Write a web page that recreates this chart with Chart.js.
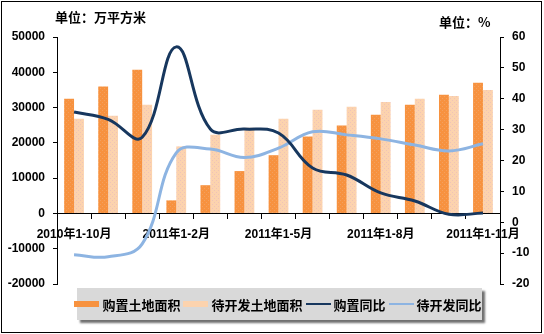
<!DOCTYPE html>
<html>
<head>
<meta charset="utf-8">
<script src="https://cdn.jsdelivr.net/npm/chart.js@4.4.1/dist/chart.umd.min.js"></script>
<style>
    body { margin: 0; background: #fff; }
    #wrap { position: relative; width: 544px; height: 334px; font-family: "Noto Sans CJK SC", sans-serif; }
    #chart { position: absolute; left: 0; top: 0; }
    .unit { position: absolute; font-weight: bold; font-size: 13px; color: #000; white-space: nowrap; }
    #legend {
        position: absolute; left: 77px; top: 288px; width: 405px; height: 32px;
        background: #d9d9d9; box-shadow: 3px 3px 2px #707070;
        display: flex; align-items: center; justify-content: center;
        font-weight: bold; font-size: 13px; white-space: nowrap;
    }
    #legend .item { display: flex; align-items: center; margin-right: 3px; }
    #legend .sw { display: inline-block; width: 25px; margin-right: 3px; }
</style>
</head>
<body>
<div id="wrap">
    <canvas id="chart" width="544" height="334"></canvas>
    <div class="unit" style="left:55px;top:7px;">单位：万平方米</div>
    <div class="unit" style="left:439px;top:12px;">单位：%</div>
    <div id="legend"></div>
</div>
<script>
const categories = [
    '2010年1-10月', '2010年1-11月', '2010年1-12月',
    '2011年1-2月', '2011年1-3月', '2011年1-4月', '2011年1-5月', '2011年1-6月',
    '2011年1-7月', '2011年1-8月', '2011年1-9月', '2011年1-10月', '2011年1-11月'
];
const seriesNames = ['购置土地面积', '待开发土地面积', '购置同比', '待开发同比'];

// 万平方米
const landBought = [32500, 36000, 40700, 3700, 8000, 12000, 16500, 21800, 24900, 28000, 30800, 33600, 37000];
const landIdle = [26800, 27700, 30800, 19000, 22300, 24300, 26800, 29400, 30200, 31600, 32500, 33300, 35000];

// %
const boughtYoY = [35.7, 33.3, 27.5, 56.8, 30.2, 30.2, 28.9, 17.6, 15.3, 9.5, 6.9, 2.6, 3.0];
const idleYoY = [-10.5, -11.2, -7.0, 22.5, 23.7, 21.0, 24.0, 29.3, 28.3, 27.0, 25.0, 23.1, 25.4];

const colors = ['#F7923F', '#FCD3AE', '#17375E', '#8DB4E2'];

function texture(base, dot) {
    const c = document.createElement('canvas');
    c.width = 4; c.height = 4;
    const g = c.getContext('2d');
    g.fillStyle = base; g.fillRect(0, 0, 4, 4);
    g.fillStyle = dot;
    g.fillRect(0, 0, 1, 1);
    g.fillRect(2, 2, 1, 1);
    return g.createPattern(c, 'repeat');
}
const ctx = document.getElementById('chart').getContext('2d');
const fills = [texture('#F7923F', '#F4A05E'), texture('#FCD3AE', '#EFC3B8')];

// outer frame
const framePlugin = {
    id: 'frame',
    afterDraw(chart) {
        const c = chart.ctx;
        c.save();
        c.strokeStyle = '#000';
        c.lineWidth = 1;
        c.strokeRect(1.5, 1.5, 540, 331);
        c.restore();
    }
};

const tickFont = { family: 'Liberation Sans, Arial', size: 12, weight: 'bold' };

new Chart(ctx, {
    type: 'bar',
    data: {
        labels: categories,
        datasets: [{
            label: seriesNames[2], type: 'line', data: boughtYoY, yAxisID: 'y1',
            borderColor: colors[2], borderWidth: 3, pointRadius: 0, tension: 0.4, order: 0
        }, {
            label: seriesNames[3], type: 'line', data: idleYoY, yAxisID: 'y1',
            borderColor: colors[3], borderWidth: 3, pointRadius: 0, tension: 0.4, order: 1
        }, {
            label: seriesNames[0], data: landBought, yAxisID: 'y',
            backgroundColor: fills[0], order: 2,
            categoryPercentage: 0.58, barPercentage: 1
        }, {
            label: seriesNames[1], data: landIdle, yAxisID: 'y',
            backgroundColor: fills[1], order: 2,
            categoryPercentage: 0.58, barPercentage: 1
        }]
    },
    options: {
        responsive: false,
        animation: false,
        layout: { padding: { top: 37, bottom: 50, left: 0, right: 0 } },
        plugins: { legend: { display: false }, tooltip: { enabled: false } },
        scales: {
            x: {
                position: { y: 0 },
                offset: true,
                border: { display: true, color: '#000', width: 1 },
                grid: { display: true, drawOnChartArea: false, drawTicks: true, tickLength: 5, color: '#000', offset: true },
                ticks: {
                    autoSkip: false, maxRotation: 0, padding: 9, color: '#000',
                    font: { family: 'Liberation Sans, Noto Sans CJK SC', size: 12, weight: 'bold' },
                    callback: (v, i) => i % 3 === 0 ? categories[i] : ''
                }
            },
            y: {
                position: 'left', min: -20000, max: 50000,
                border: { display: true, color: '#000', width: 1 },
                grid: { drawOnChartArea: false, drawTicks: true, tickLength: 4, color: '#000' },
                ticks: { stepSize: 10000, color: '#000', font: tickFont, padding: 8, callback: v => String(v) },
                afterFit: s => { s.width = 57; }
            },
            y1: {
                position: 'right', min: -20, max: 60,
                border: { display: true, color: '#000', width: 1 },
                grid: { drawOnChartArea: false, drawTicks: true, tickLength: 4, color: '#000' },
                ticks: { stepSize: 10, color: '#000', font: tickFont, padding: 8, callback: v => String(v) },
                afterFit: s => { s.width = 44; }
            }
        }
    },
    plugins: [framePlugin]
});

// legend built from the series names and colours
const legend = document.getElementById('legend');
seriesNames.forEach((name, i) => {
    const item = document.createElement('span');
    item.className = 'item';
    const sw = document.createElement('span');
    sw.className = 'sw';
    if (i < 2) { sw.style.height = '6px'; sw.style.background = colors[i]; }
    else { sw.style.height = '2px'; sw.style.background = colors[i]; }
    item.appendChild(sw);
    item.appendChild(document.createTextNode(name));
    legend.appendChild(item);
});
</script>
</body>
</html>
